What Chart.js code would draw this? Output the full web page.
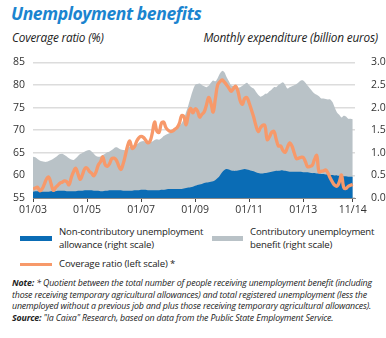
<!DOCTYPE html>
<html>
<head>
<meta charset="utf-8">
<script src="https://cdn.jsdelivr.net/npm/chart.js"></script>
<style>
  body { margin: 0; background: #fff; font-family: "Open Sans", sans-serif; color: #222; }
  #page { position: relative; width: 386px; height: 338px; overflow: hidden; }
  .abs { position: absolute; white-space: nowrap; }
  #title { left: 11px; top: 1px; font-size: 17.5px; font-weight: 700; font-style: italic; color: #1b84cf; letter-spacing: -0.4px; }
  .axtitle { top: 29px; font-size: 11.8px; font-style: italic; color: #222; letter-spacing: -0.2px; }
  #chartBox { left: 0; top: 48px; width: 386px; height: 172px; }
  .sw { position: absolute; height: 5px; }
  .lg { font-size: 9.6px; line-height: 12.5px; color: #222; letter-spacing: -0.15px; }
  #note { left: 12px; top: 278px; font-size: 8.8px; line-height: 11.5px; font-style: italic; color: #222; letter-spacing: -0.15px; }
</style>
</head>
<body>
<div id="page">
  <div id="title" class="abs">Unemployment benefits</div>
  <div class="abs axtitle" style="left:12px">Coverage ratio (%)</div>
  <div class="abs axtitle" style="right:8px">Monthly expenditure (billion euros)</div>
  <div id="chartBox" class="abs"><canvas id="chart"></canvas></div>

  <div class="sw" style="left:20px; top:236px; width:32px; background:#0a6cb5"></div>
  <div class="abs lg" style="left:59px; top:226px">Non-contributory unemployment<br>allowance (right scale)</div>
  <div class="sw" style="left:212px; top:236px; width:31px; background:#b9c2c7"></div>
  <div class="abs lg" style="left:250px; top:226px">Contributory unemployment<br>benefit (right scale)</div>
  <div class="sw" style="left:20px; top:263px; width:32px; height:3px; background:#f7996a"></div>
  <div class="abs lg" style="left:59px; top:258px">Coverage ratio (left scale) *</div>

  <div id="note" class="abs"><b>Note:</b> * Quotient between the total number of people receiving unemployment benefit (including<br>those receiving temporary agricultural allowances) and total registered unemployment (less the<br>unemployed without a previous job and plus those receiving temporary agricultural allowances).<br><b>Source:</b> "la Caixa" Research, based on data from the Public State Employment Service.</div>
</div>

<script>
// monthly data, Jan 2003 .. Nov 2014
const startYear = 2003;
const tickLabels = ['01/03', '01/05', '01/07', '01/09', '01/11', '01/13', '11/14'];

// coverage ratio (%), left scale
const coverageRatio = [
  57.0, 57.2, 57.4, 56.6, 57.0, 58.0, 59.2, 59.6, 58.2, 56.7, 57.3, 57.8,
  58.3, 58.5, 58.8, 58.6, 57.9, 59.5, 60.8, 61.6, 60.3, 59.1, 60.2, 61.5,
  61.6, 60.9, 60.5, 59.9, 60.8, 62.3, 63.0, 64.1, 62.4, 62.0, 62.6, 63.7,
  63.8, 63.4, 62.2, 61.3, 62.5, 64.4, 66.5, 67.6, 66.0, 66.3, 67.5, 68.3,
  68.6, 68.4, 67.8, 67.2, 67.6, 69.4, 71.8, 69.8, 69.5, 71.5, 71.8, 70.6,
  70.0, 69.7, 69.8, 70.2, 70.6, 71.5, 73.2, 73.0, 71.2, 73.5, 74.8, 73.8,
  74.7, 74.3, 72.9, 73.5, 74.0, 75.5, 77.2, 76.0, 74.0, 77.0, 80.0, 80.7,
  81.1, 80.6, 80.0, 79.3, 78.6, 79.2, 79.7, 78.6, 76.5, 75.7, 77.0, 77.2,
  76.0, 74.5, 72.9, 71.0, 69.7, 70.5, 71.1, 71.0, 67.9, 68.5, 69.5, 69.7,
  68.0, 66.5, 66.5, 65.5, 65.1, 66.2, 67.2, 66.5, 65.0, 63.7, 63.8, 64.0,
  64.0, 63.0, 61.9, 62.0, 62.2, 63.5, 64.4, 60.8, 60.9, 61.0, 61.2, 60.5,
  59.4, 58.5, 57.8, 57.6, 58.5, 60.1, 57.3, 57.1, 57.6, 57.8, 58.0
];

// non-contributory allowance (billion euros), right scale
const nonContributory = [
  0.14, 0.15, 0.15, 0.15, 0.14, 0.14, 0.14, 0.14, 0.15, 0.15, 0.15, 0.16,
  0.16, 0.16, 0.16, 0.15, 0.15, 0.15, 0.15, 0.15, 0.16, 0.16, 0.16, 0.17,
  0.17, 0.17, 0.17, 0.16, 0.16, 0.16, 0.15, 0.15, 0.16, 0.16, 0.17, 0.17,
  0.17, 0.17, 0.17, 0.17, 0.16, 0.16, 0.16, 0.16, 0.16, 0.17, 0.17, 0.17,
  0.18, 0.18, 0.18, 0.17, 0.17, 0.17, 0.17, 0.17, 0.17, 0.18, 0.18, 0.19,
  0.20, 0.20, 0.20, 0.20, 0.20, 0.20, 0.20, 0.21, 0.22, 0.23, 0.24, 0.25,
  0.27, 0.29, 0.30, 0.31, 0.33, 0.34, 0.35, 0.36, 0.37, 0.40, 0.44, 0.50,
  0.57, 0.62, 0.64, 0.63, 0.61, 0.60, 0.60, 0.61, 0.62, 0.63, 0.64, 0.63,
  0.62, 0.60, 0.59, 0.57, 0.55, 0.54, 0.54, 0.55, 0.56, 0.57, 0.58, 0.59,
  0.60, 0.60, 0.61, 0.61, 0.60, 0.59, 0.58, 0.58, 0.58, 0.58, 0.58, 0.58,
  0.57, 0.57, 0.57, 0.56, 0.55, 0.55, 0.54, 0.54, 0.53, 0.53, 0.52, 0.52,
  0.51, 0.51, 0.50, 0.50, 0.49, 0.49, 0.48, 0.48, 0.47, 0.47, 0.47
];

// total expenditure = top of the contributory (grey) band, right scale
const totalSpend = [
  0.91, 0.90, 0.86, 0.83, 0.81, 0.80, 0.80, 0.82, 0.84, 0.87, 0.90, 0.94,
  0.97, 0.98, 0.95, 0.92, 0.88, 0.85, 0.84, 0.88, 0.93, 0.97, 1.00, 1.03,
  1.05, 1.06, 1.03, 0.98, 0.93, 0.91, 0.92, 0.95, 0.98, 1.01, 1.03, 1.06,
  1.10, 1.12, 1.10, 1.07, 1.06, 1.06, 1.10, 1.14, 1.16, 1.16, 1.18, 1.22,
  1.25, 1.26, 1.24, 1.22, 1.23, 1.25, 1.28, 1.30, 1.29, 1.32, 1.37, 1.40,
  1.42, 1.45, 1.47, 1.50, 1.55, 1.60, 1.65, 1.75, 1.90, 2.05, 2.22, 2.38,
  2.50, 2.52, 2.53, 2.50, 2.47, 2.45, 2.48, 2.55, 2.60, 2.58, 2.65, 2.75,
  2.81, 2.78, 2.67, 2.58, 2.49, 2.47, 2.45, 2.44, 2.45, 2.48, 2.52, 2.55,
  2.50, 2.45, 2.42, 2.35, 2.28, 2.24, 2.26, 2.30, 2.31, 2.36, 2.40, 2.45,
  2.45, 2.50, 2.53, 2.56, 2.50, 2.42, 2.45, 2.47, 2.49, 2.52, 2.56, 2.60,
  2.60, 2.55, 2.48, 2.42, 2.36, 2.31, 2.28, 2.25, 2.20, 2.20, 2.19, 2.18,
  2.18, 2.12, 2.00, 1.89, 1.84, 1.78, 1.82, 1.80, 1.75, 1.75, 1.74
];

// "MM/YY" -> months since Jan of startYear
function monthIndex(label) {
  const [mm, yy] = label.split('/').map(Number);
  return (2000 + yy - startYear) * 12 + (mm - 1);
}

const toPoints = arr => arr.map((v, i) => ({ x: i, y: v }));
const tickPos = tickLabels.map(monthIndex);
const font = { family: 'Open Sans', size: 10.5 };

new Chart(document.getElementById('chart'), {
  type: 'line',
  data: {
    datasets: [
      {
        label: 'Coverage ratio (left scale) *',
        data: toPoints(coverageRatio),
        yAxisID: 'yL',
        borderColor: '#f7996a',
        borderWidth: 3.3,
        pointRadius: 0,
        tension: 0.4,
        fill: false
      },
      {
        label: 'Non-contributory unemployment allowance (right scale)',
        data: toPoints(nonContributory),
        yAxisID: 'yR',
        backgroundColor: '#0a6cb5',
        borderWidth: 0,
        pointRadius: 0,
        tension: 0.3,
        fill: 'origin'
      },
      {
        label: 'Contributory unemployment benefit (right scale)',
        data: toPoints(totalSpend),
        yAxisID: 'yR',
        backgroundColor: '#b9c2c7',
        borderWidth: 0,
        pointRadius: 0,
        tension: 0.3,
        fill: 'origin'
      }
    ]
  },
  options: {
    responsive: true,
    maintainAspectRatio: false,
    animation: false,
    layout: { padding: { top: 8, left: 0, right: 0, bottom: 0 } },
    plugins: { legend: { display: false }, tooltip: { enabled: false } },
    scales: {
      x: {
        type: 'linear',
        min: 0,
        max: 143,
        afterBuildTicks: axis => { axis.ticks = tickPos.map(v => ({ value: v })); },
        afterFit: axis => { axis.height = 22; },
        ticks: {
          font: font,
          color: '#333',
          padding: 2,
          maxRotation: 0,
          autoSkip: false,
          callback: v => tickLabels[tickPos.indexOf(v)]
        },
        grid: { drawOnChartArea: false, color: '#444', tickLength: 4 },
        border: { color: '#888' }
      },
      yL: {
        position: 'left',
        min: 55,
        max: 85,
        afterFit: axis => { axis.width = 33; },
        ticks: { stepSize: 5, font: font, color: '#333', padding: 8 },
        grid: { color: '#dcdcdc', lineWidth: 1.5, drawTicks: false },
        border: { display: false }
      },
      yR: {
        position: 'right',
        min: 0,
        max: 3,
        afterFit: axis => { axis.width = 31; },
        ticks: { stepSize: 0.5, font: font, color: '#333', padding: 8, callback: v => v.toFixed(1) },
        grid: { display: false },
        border: { display: false }
      }
    }
  }
});
</script>
</body>
</html>
